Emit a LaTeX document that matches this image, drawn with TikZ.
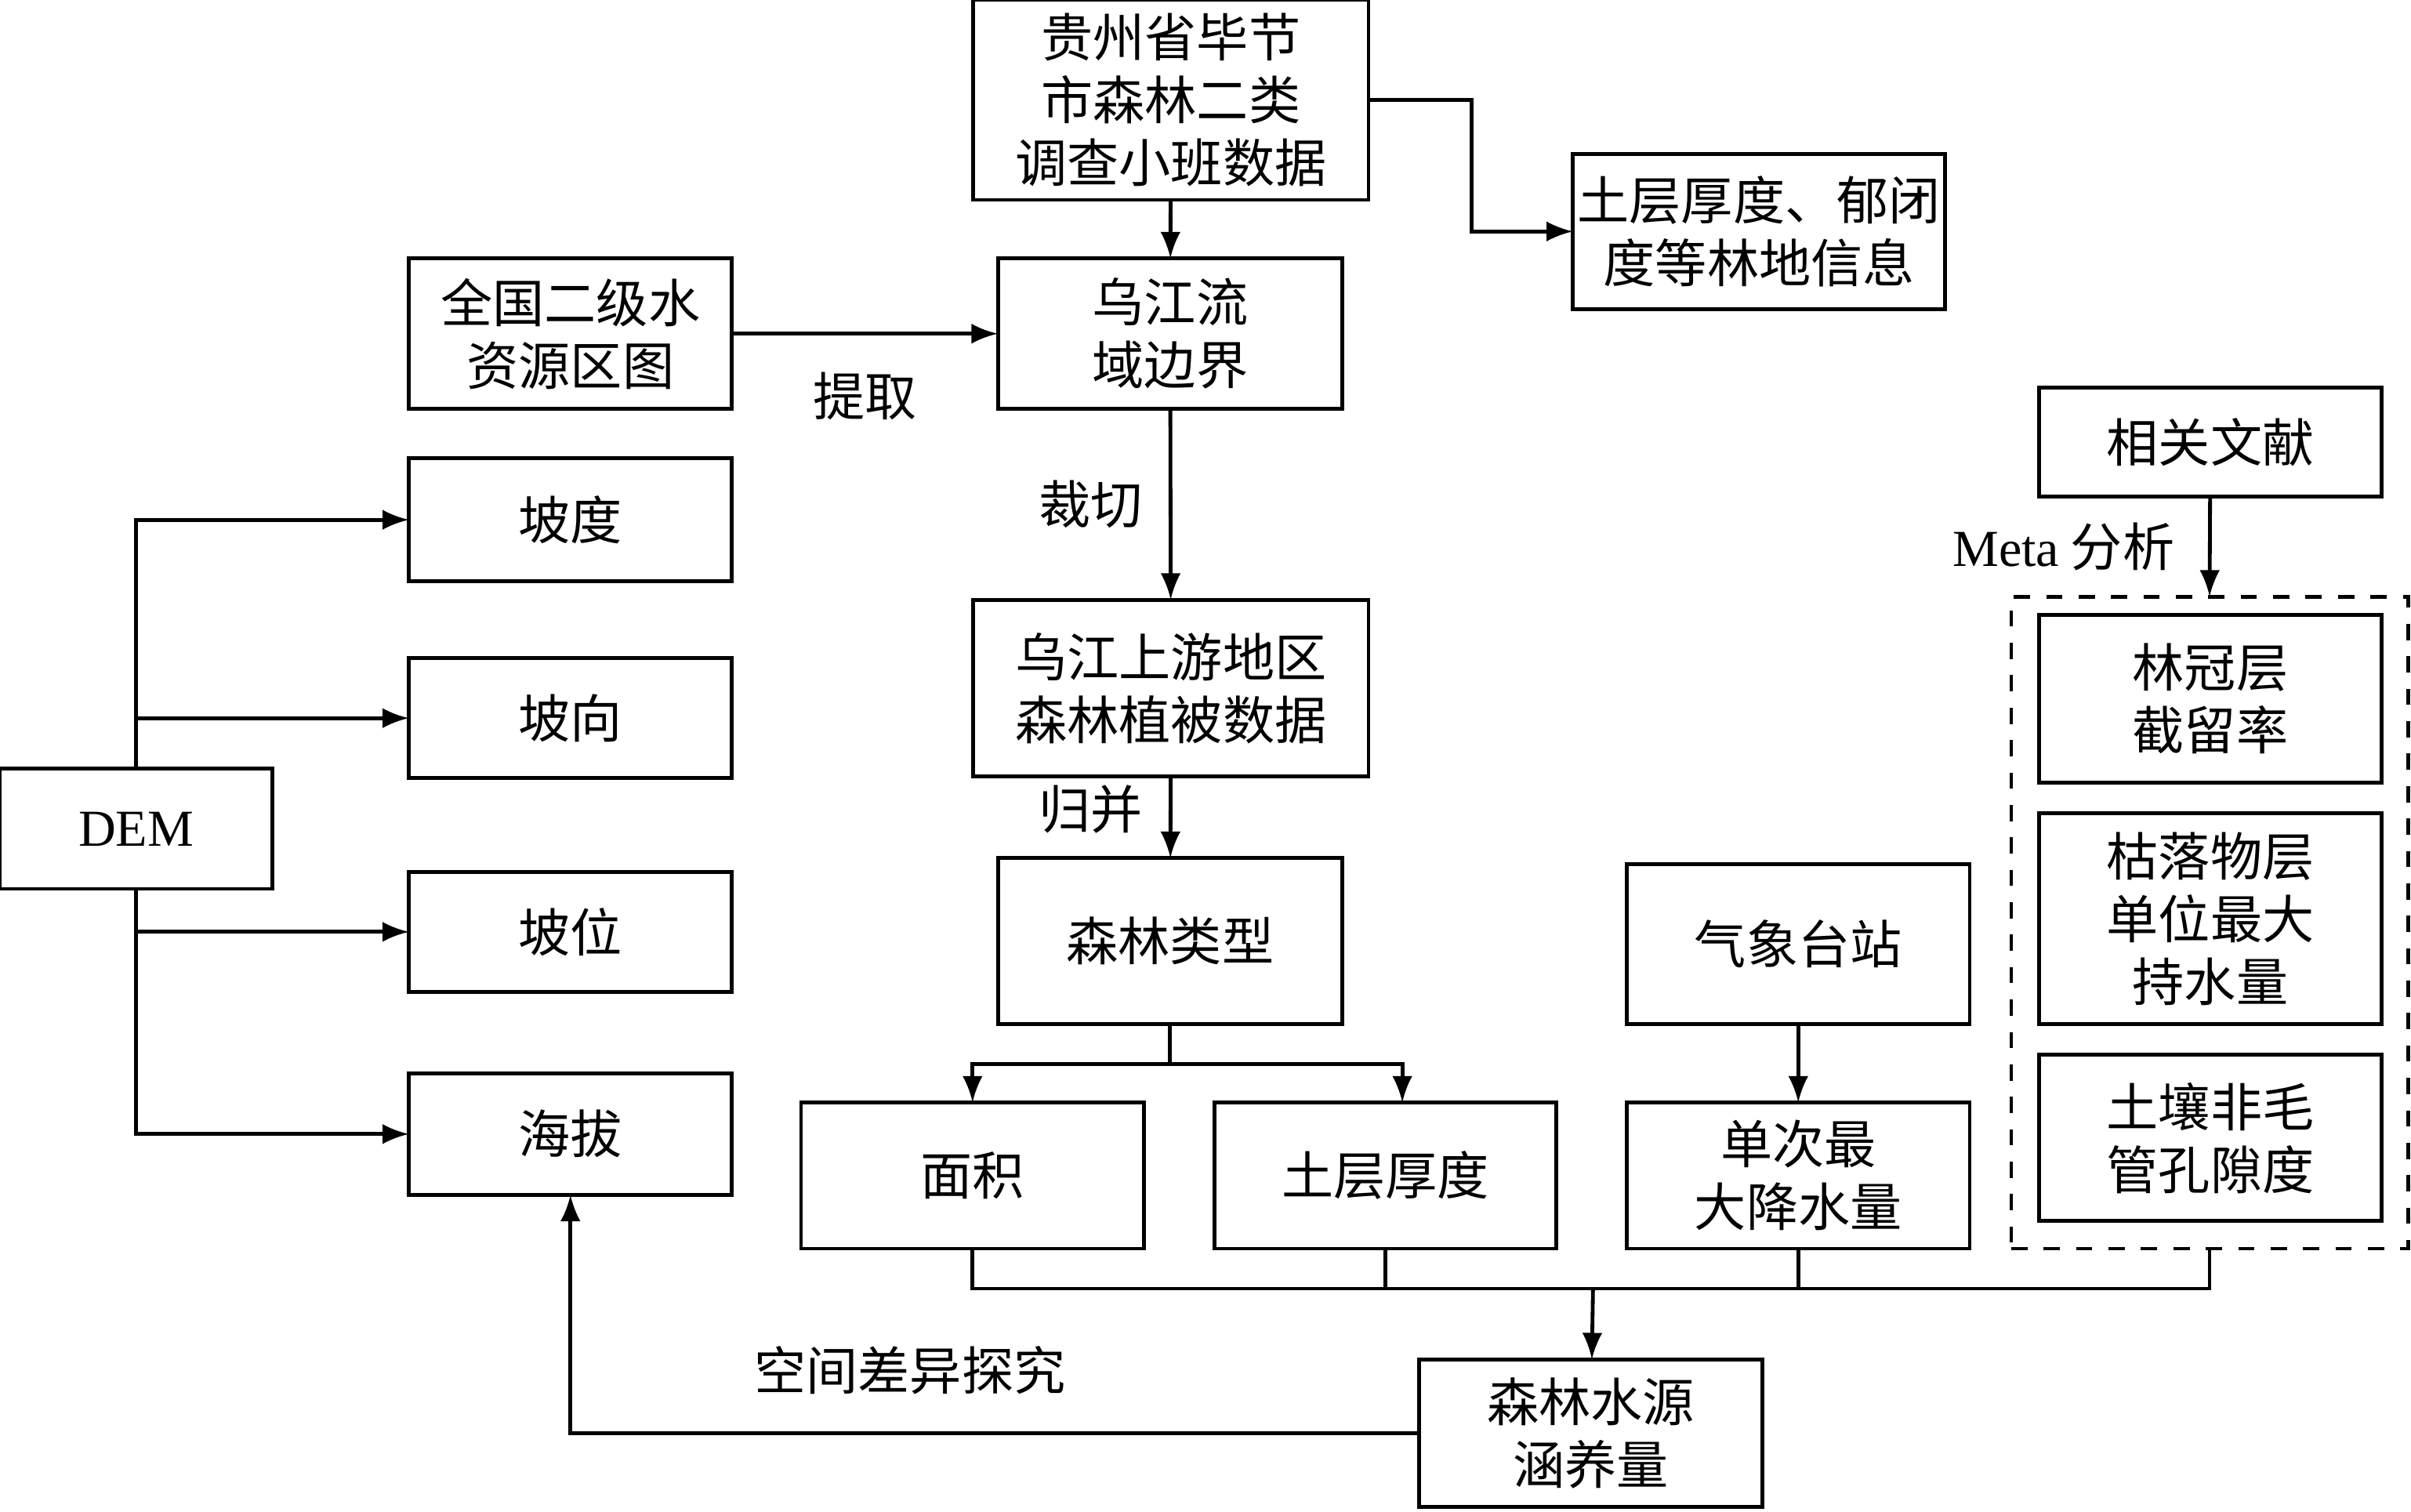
\documentclass[tikz,border=0pt]{standalone}
\usepackage{fontspec}
\setmainfont{Liberation Serif}
\newfontfamily\cjk{Noto Sans CJK SC}
\usetikzlibrary{positioning}
\usetikzlibrary{arrows.meta}
\tikzset{
    box/.style = {rectangle, line width=0.7pt, draw=black, align=center, inner sep=0pt, outer sep=0pt,
                  minimum width=2.23cm, font=\fontsize{9.6}{11.6}\selectfont\cjk},
    dbox/.style = {rectangle, line width=0.7pt, draw=black, dashed, inner sep=0pt, outer sep=0pt},
    edgen/.style = {-latex, line width=0.7pt},
    edgep/.style = {line width=0.7pt},
    lab/.style = {font=\fontsize{9.6}{11.6}\selectfont\cjk}
}
\begin{document}
\begin{tikzpicture}
\useasboundingbox (0,0) rectangle (15.68,-9.83);
\node[box, minimum width=2.57cm, minimum height=1.30cm] at (7.615,-0.65) (top) {贵州省毕节\\市森林二类\\调查小班数据};
\node[box, minimum width=2.42cm, minimum height=1.01cm] at (11.44,-1.505) (info) {土层厚度、郁闭\\度等林地信息};
\node[box, minimum width=2.10cm, minimum height=0.98cm] at (3.71,-2.17) (qg) {全国二级水\\资源区图};
\node[box, minimum width=2.24cm, minimum height=0.98cm] at (7.61,-2.17) (wj) {乌江流\\域边界};
\node[box, minimum height=0.71cm] at (14.375,-2.875) (wx) {相关文献};
\node[box, minimum width=2.10cm, minimum height=0.80cm] at (3.71,-3.38) (pd) {坡度};
\node[box, minimum width=2.10cm, minimum height=0.78cm] at (3.71,-4.67) (px) {坡向};
\node[box, minimum width=1.77cm, minimum height=0.78cm, font=\fontsize{9.6}{11.6}\selectfont\rmfamily] at (0.885,-5.39) (dem) {DEM};
\node[box, minimum width=2.10cm, minimum height=0.78cm] at (3.71,-6.06) (pw) {坡位};
\node[box, minimum width=2.10cm, minimum height=0.79cm] at (3.71,-7.375) (hb) {海拔};
\node[box, minimum width=2.57cm, minimum height=1.15cm] at (7.615,-4.475) (sy) {乌江上游地区\\森林植被数据};
\node[box, minimum width=2.24cm, minimum height=1.08cm] at (7.61,-6.12) (lx) {森林类型};
\node[box, minimum height=1.04cm] at (11.695,-6.14) (qx) {气象台站};
\node[dbox, minimum width=2.58cm, minimum height=4.24cm] at (14.37,-6.00) (dash) {};
\node[box, minimum height=1.09cm] at (14.375,-4.545) (lg) {林冠层\\截留率};
\node[box, minimum height=1.37cm] at (14.375,-5.975) (kl) {枯落物层\\单位最大\\持水量};
\node[box, minimum height=1.08cm] at (14.375,-7.40) (tr) {土壤非毛\\管孔隙度};
\node[box, minimum height=0.95cm] at (6.325,-7.645) (mj) {面积};
\node[box, minimum width=2.22cm, minimum height=0.95cm] at (9.01,-7.645) (tc) {土层厚度};
\node[box, minimum height=0.95cm] at (11.695,-7.645) (dc) {单次最\\大降水量};
\node[box, minimum height=0.96cm] at (10.345,-9.32) (sl) {森林水源\\涵养量};
\coordinate (fj) at (7.61,-6.92);
\coordinate (bus) at (10.36,-8.38);
%
\draw[edgen] (top) -- (wj);
\draw[edgen] (top.east) -| ([xshift=-0.66cm]info.west) -- (info.west);
\draw[edgen] (qg) -- node[lab, below=0.12cm] {提取} (wj);
\draw[edgen] (wj) -- node[lab, left=0.05cm] {裁切} (sy);
\draw[edgen] (sy) -- node[lab, left=0.05cm, yshift=0.05cm] {归并} (lx);
\draw[edgep] (lx) -- (fj);
\draw[edgen] (fj) -| (mj.north);
\draw[edgen] (fj) -| ([xshift=0.11cm]tc.north);
\draw[edgen] (qx) -- (dc);
\draw[edgen] (wx) -- node[lab, left=0.1cm] {{\rmfamily Meta} 分析} (dash.north);
\draw[edgep] (mj.south) |- (dash.south|-bus) -- (dash.south);
\draw[edgep] (tc.south) -- (tc.south|-bus);
\draw[edgep] (dc.south) -- (dc.south|-bus);
\draw[edgen] (bus) -- (sl);
\draw[edgen] (sl.west) -| node[lab, pos=0.3, above=0.12cm] {空间差异探究} (hb.south);
\draw[edgen] (dem.north) |- (pd);
\draw[edgen] (dem.north) |- (px);
\draw[edgen] (dem.south) |- (pw);
\draw[edgen] (dem.south) |- (hb);
\end{tikzpicture}
\end{document}
